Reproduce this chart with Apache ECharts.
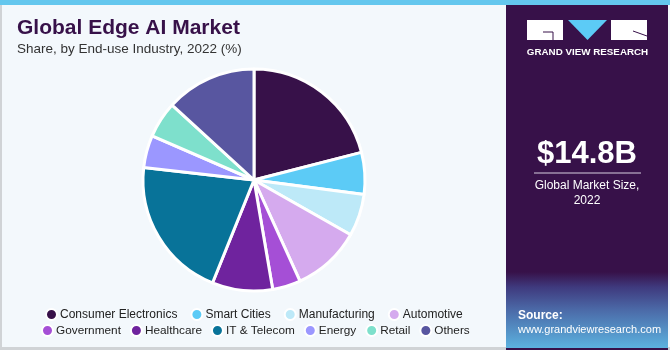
<!DOCTYPE html>
<html>
<head>
<meta charset="utf-8">
<script src="https://cdn.jsdelivr.net/npm/echarts@6/dist/echarts.min.js"></script>
<style>
  html, body { margin: 0; padding: 0; background: #fff; }
  #chart { width: 670px; height: 350px; }
</style>
</head>
<body>
<div id="chart"></div>
<script>
"use strict";

// dados
const industries = ['Consumer Electronics', 'Smart Cities', 'Manufacturing', 'Automotive',
  'Government', 'Healthcare', 'IT & Telecom', 'Energy', 'Retail', 'Others'];
const shares = [21.0, 6.1, 6.1, 10.0, 4.1, 8.8, 20.7, 4.7, 5.3, 13.2];
const colors = ['#371149', '#5ccbf6', '#bde9f8', '#d5aaee', '#a54fd6',
  '#6f239e', '#087399', '#9b97ff', '#7ee0cc', '#5856a0'];
const marketSize = '$14.8B';

var chartElem = document.getElementById('chart');
var chart = echarts.init(chartElem);

var font = '"Liberation Sans", Arial, sans-serif';

chart.setOption({
  animation: false,
  color: colors,
  legend: [{
    left: 40,
    top: 303,
    itemWidth: 11,
    itemHeight: 11,
    itemGap: 13,
    icon: 'circle',
    textStyle: { fontFamily: font, fontSize: 12, color: '#222', padding: [0, 0, 0, -2] },
    data: industries.slice(0, 4)
  }, {
    left: 36,
    top: 319,
    itemWidth: 11,
    itemHeight: 11,
    itemGap: 9,
    icon: 'circle',
    textStyle: { fontFamily: font, fontSize: 11.8, color: '#222', padding: [0, 0, 0, -2] },
    data: industries.slice(4)
  }],
  graphic: [
    // painel esquerdo
    { type: 'rect', z: -10, shape: { x: 0, y: 0, width: 670, height: 350 }, style: { fill: '#f3f8fc' } },
    { type: 'rect', z: -9, shape: { x: 0, y: 0, width: 2, height: 350 }, style: { fill: '#d0d3d6' } },
    { type: 'rect', z: -9, shape: { x: 0, y: 347, width: 670, height: 3 }, style: { fill: '#d0d3d6' } },
    // painel direito
    { type: 'rect', z: -8, shape: { x: 506, y: 0, width: 162, height: 350 }, style: { fill: '#371149' } },
    {
      type: 'rect', z: -7, shape: { x: 506, y: 272, width: 162, height: 76 },
      style: {
        fill: new echarts.graphic.LinearGradient(0, 0, 0, 1, [
          { offset: 0, color: 'rgba(55,17,73,1)' },
          { offset: 0.2, color: '#3f3a7e' },
          { offset: 0.5, color: '#4b6aa8' },
          { offset: 1, color: '#5cb2df' }
        ])
      }
    },
    { type: 'rect', z: -6, shape: { x: 0, y: 0, width: 670, height: 5 }, style: { fill: '#64c7ee' } },
    // logo
    { type: 'rect', shape: { x: 527, y: 20, width: 36, height: 20 }, style: { fill: '#fff' } },
    { type: 'polyline', shape: { points: [[543, 32], [553, 32], [553, 40]] }, style: { stroke: '#371149', lineWidth: 1, fill: null } },
    { type: 'polygon', shape: { points: [[568, 20], [607, 20], [587.5, 40]] }, style: { fill: '#5ccbf6' } },
    { type: 'rect', shape: { x: 611, y: 20, width: 36, height: 20 }, style: { fill: '#fff' } },
    { type: 'line', shape: { x1: 633, y1: 31, x2: 647, y2: 36 }, style: { stroke: '#371149', lineWidth: 1 } },
    {
      type: 'text', style: { x: 587.5, y: 52, text: 'GRAND VIEW RESEARCH', fill: '#fff', font: 'bold 9.8px ' + font, align: 'center', verticalAlign: 'middle' }
    },
    // tamanho do mercado
    {
      type: 'text', style: { x: 587, y: 154, text: marketSize, fill: '#fff', font: 'bold 31px ' + font, align: 'center', verticalAlign: 'middle' }
    },
    { type: 'line', shape: { x1: 534, y1: 173, x2: 641, y2: 173 }, style: { stroke: '#d8cfe0', lineWidth: 1 } },
    {
      type: 'text', style: { x: 587, y: 186, text: 'Global Market Size,', fill: '#fff', font: '12px ' + font, align: 'center', verticalAlign: 'middle' }
    },
    {
      type: 'text', style: { x: 587, y: 201, text: '2022', fill: '#fff', font: '12px ' + font, align: 'center', verticalAlign: 'middle' }
    },
    // fonte
    {
      type: 'text', style: { x: 518, y: 316, text: 'Source:', fill: '#fff', font: 'bold 12px ' + font, verticalAlign: 'middle' }
    },
    {
      type: 'text', style: { x: 518, y: 330, text: 'www.grandviewresearch.com', fill: '#fff', font: '11px ' + font, verticalAlign: 'middle' }
    },
    // títulos
    {
      type: 'text', style: { x: 17, y: 28, text: 'Global Edge AI Market', fill: '#371149', font: 'bold 21px ' + font, verticalAlign: 'middle' }
    },
    {
      type: 'text', style: { x: 17, y: 49, text: 'Share, by End-use Industry, 2022 (%)', fill: '#333', font: '13.5px ' + font, verticalAlign: 'middle' }
    }
  ],
  series: [{
    name: 'Share',
    type: 'pie',
    center: [254, 180],
    radius: 111,
    startAngle: 90,
    clockwise: true,
    label: { show: false },
    labelLine: { show: false },
    itemStyle: { borderColor: '#fff', borderWidth: 3 },
    data: industries.map(function (name, i) {
      return { name: name, value: shares[i] };
    })
  }]
});
</script>
</body>
</html>
